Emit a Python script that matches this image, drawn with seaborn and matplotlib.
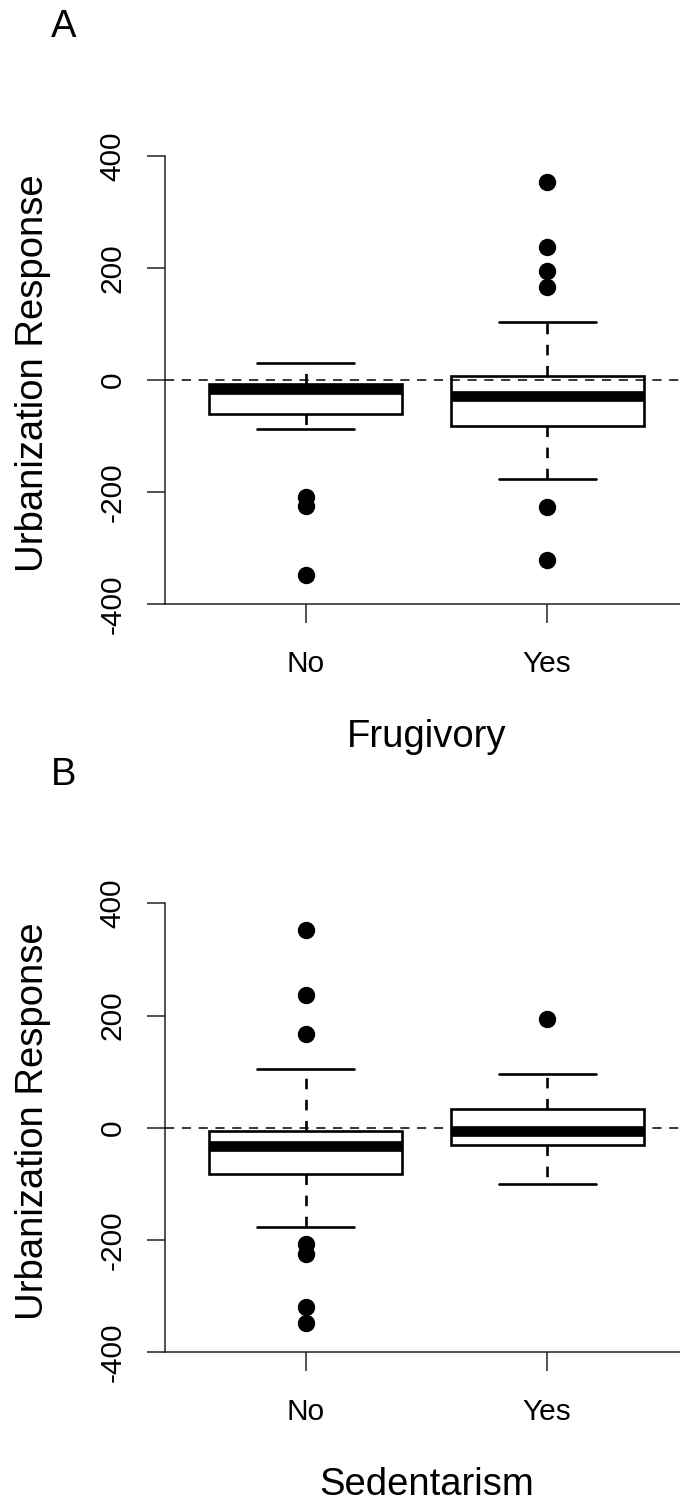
import matplotlib
matplotlib.use('Agg')
import pandas as pd
import matplotlib.pyplot as plt
import seaborn as sns

# categories
groups = ['No', 'Yes']

# panel A - Frugivory
frug_q1 = [-60, -82]
frug_med = [-16, -28]
frug_q3 = [-6, 8]
frug_whislo = [-88, -177]
frug_whishi = [30, 104]
frug_out = [[-348, -225, -208], [-321, -227, 167, 194, 237, 353]]

# panel B - Sedentarism
sed_q1 = [-82, -31]
sed_med = [-32, -6]
sed_q3 = [-6, 33]
sed_whislo = [-176, -100]
sed_whishi = [104, 96]
sed_out = [[-347, -319, -225, -207, 167, 236, 352], [193]]

yticks = [-400, -200, 0, 200, 400]


def sample_for(q1, med, q3, lo, hi, out):
    # small sample whose linear quartiles / 1.5 IQR whiskers give the read stats
    low = sorted(v for v in out if v < q1)
    high = sorted(v for v in out if v > q3)
    m = max(len(low), len(high)) + 1
    vals = low + [lo] + [q1] * (m - len(low))
    vals += [med] * m
    vals += [q3] * m
    vals += [q3] * (m - len(high) - 1) + [hi] + high
    return vals


def build_frame(q1s, meds, q3s, los, his, outs):
    rows = []
    for i, g in enumerate(groups):
        for v in sample_for(q1s[i], meds[i], q3s[i], los[i], his[i], outs[i]):
            rows.append({'group': g, 'value': v})
    return pd.DataFrame(rows)


frug_df = build_frame(frug_q1, frug_med, frug_q3, frug_whislo, frug_whishi, frug_out)
sed_df = build_frame(sed_q1, sed_med, sed_q3, sed_whislo, sed_whishi, sed_out)

sns.set_style('ticks')
plt.rcParams['font.family'] = ['Liberation Sans', 'DejaVu Sans']
plt.rcParams['text.color'] = 'black'

W, H = 680, 1501
fig = plt.figure(figsize=(W / 100, H / 100), dpi=100)


def draw_panel(df, top_px, bottom_px, letter, xlabel, shift):
    ax = fig.add_axes([165 / W, 1 - bottom_px / H, (688 - 165) / W, (bottom_px - top_px) / H])
    sns.boxplot(data=df, x='group', y='value', order=groups, ax=ax,
                color='white', linecolor='black', linewidth=1.9, width=0.8, whis=1.5,
                medianprops=dict(linewidth=7.7, color='black', solid_capstyle='butt'),
                whiskerprops=dict(linestyle=(0, (4, 4))),
                flierprops=dict(marker='o', markerfacecolor='black',
                                markeredgecolor='black', markersize=11.5))
    ax.axhline(0, color='black', linestyle=(0, (6, 5)), linewidth=1.1, zorder=6)
    ax.set_xlim(-0.583, 1.583)
    ax.set_ylim(-400, 400)
    ax.set_yticks(yticks)
    ax.set_yticklabels([str(t) for t in yticks], rotation=90, va='center')
    ax.set_xlabel('')
    ax.set_ylabel('')
    for s in ['top', 'right']:
        ax.spines[s].set_visible(False)
    for s in ['left', 'bottom']:
        ax.spines[s].set_linewidth(1.1)
        ax.spines[s].set_color('#222222')
    ax.tick_params(axis='y', length=13, width=1.1, pad=14.5, labelsize=21.5, colors='#222222',
                   labelcolor='black')
    ax.tick_params(axis='x', length=13.5, width=1.1, pad=19.5, labelsize=21.5, colors='#222222',
                   labelcolor='black')
    for lab in ax.get_yticklabels():
        lab.set_rotation(90)
        lab.set_verticalalignment('center')

    fig.text(64 / W, 1 - (37 + shift) / H, letter, fontsize=27.5, ha='center', va='baseline',
             color='black')
    fig.text(426.5 / W, 1 - (747 + shift) / H, xlabel, fontsize=27.5, ha='center', va='baseline',
             color='black')
    fig.text(43 / W, 1 - (373 + shift) / H, 'Urbanization Response', fontsize=27.5,
             rotation=90, rotation_mode='anchor', ha='center', va='baseline', color='black')
    return ax


draw_panel(frug_df, 156, 604.3, 'A', 'Frugivory', 0)
draw_panel(sed_df, 903.3, 1352.3, 'B', 'Sedentarism', 747.7)

fig.savefig('out.png', dpi=100)
plt.close(fig)
